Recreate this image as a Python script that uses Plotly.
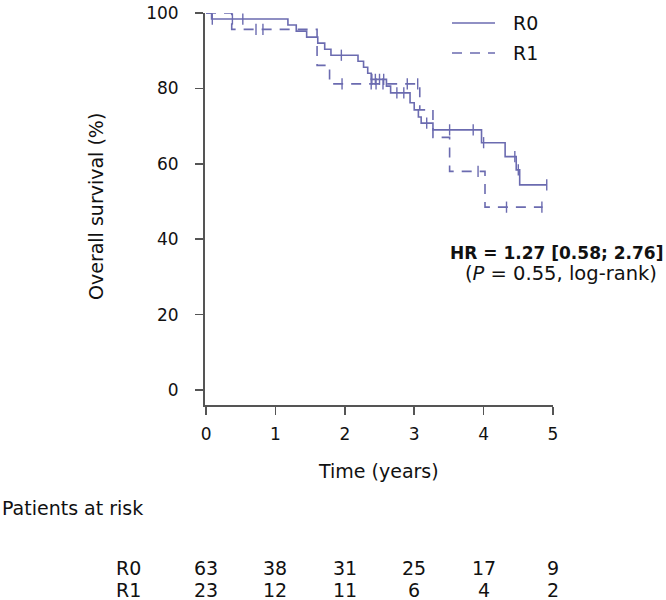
import plotly.graph_objects as go

# ---- data ----
r0_times = [0, 0.08, 1.18, 1.30, 1.45, 1.61, 1.71, 1.80, 2.19, 2.27, 2.33, 2.38, 2.60, 2.66, 2.94, 3.00, 3.06, 3.10, 3.27, 3.97, 4.31, 4.47, 4.52]
r0_surv = [100, 98.4, 96.8, 95.2, 93.6, 92.0, 90.4, 88.8, 87.2, 85.6, 84.0, 82.4, 80.6, 78.8, 76.2, 74.3, 72.4, 70.8, 69.0, 65.6, 61.9, 58.4, 54.4]
r0_end = 4.91
r0_censor = [0.09, 0.38, 0.53, 1.95, 2.39, 2.44, 2.50, 2.56, 2.75, 2.85, 3.18, 3.51, 3.85, 4.00, 4.45, 4.50, 4.91]

r1_times = [0, 0.37, 1.60, 1.78, 3.08, 3.27, 3.51, 4.02]
r1_surv = [100, 95.65, 86.1, 81.2, 74.3, 67.0, 58.0, 48.5]
r1_end = 4.85
r1_censor = [0.72, 0.82, 1.96, 2.38, 2.45, 2.55, 2.90, 3.05, 3.92, 4.33, 4.84]

risk_times = [0, 1, 2, 3, 4, 5]
risk_r0 = [63, 38, 31, 25, 17, 9]
risk_r1 = [23, 12, 11, 6, 4, 2]

x_ticks = [0, 1, 2, 3, 4, 5]
y_ticks = [0, 20, 40, 60, 80, 100]

COL = "#6b6bb0"
AX = "#555555"
TXT = "#111111"
FONT = "DejaVu Sans, Verdana, sans-serif"
FS = 19          # general text size
FS_TICK = 17     # tick labels
FS_HR = 17       # bold HR line
DASH = "10px,8px"

W, H = 666, 600
L, R, T, B = 205, 113, 13, 195
PW, PH = W - L - R, H - T - B


def px(x):
    return (x - L) / PW


def py(y):
    return (H - B - y) / PH


def surv_at(times, surv, t):
    s = surv[0]
    for ti, si in zip(times, surv):
        if ti <= t:
            s = si
    return s


def text(xp, yp, s, anchor="center", xref="paper", size=FS):
    fig.add_annotation(x=xp, y=py(yp), xref=xref, yref="paper", text=s, showarrow=False,
                       xanchor=anchor, yanchor="middle", font=dict(size=size, color=TXT, family=FONT))


fig = go.Figure()

for name, times, surv, end, cens, dash in [
    ("R0", r0_times, r0_surv, r0_end, r0_censor, "solid"),
    ("R1", r1_times, r1_surv, r1_end, r1_censor, DASH),
]:
    xs = list(times) + [end]
    ys = list(surv) + [surv[-1]]
    fig.add_trace(go.Scatter(
        x=xs, y=ys, mode="lines", line_shape="hv", name=name,
        line=dict(color=COL, width=1.6, dash=dash),
        cliponaxis=False, showlegend=False, hoverinfo="skip",
    ))
    fig.add_trace(go.Scatter(
        x=cens, y=[surv_at(times, surv, t) for t in cens], mode="markers",
        marker=dict(symbol="line-ns-open", size=8, color=COL, line=dict(color=COL, width=1.4)),
        cliponaxis=False, showlegend=False, hoverinfo="skip",
    ))

# legend drawn as shapes + text
fig.add_shape(type="line", xref="paper", yref="paper", x0=px(452), x1=px(495), y0=py(23), y1=py(23),
              line=dict(color=COL, width=1.6))
fig.add_shape(type="line", xref="paper", yref="paper", x0=px(452), x1=px(495), y0=py(53), y1=py(53),
              line=dict(color=COL, width=1.6, dash=DASH))
text(px(511), 23, "R0", "left")
text(px(511), 53, "R1", "left")

# HR text
text(px(665), 253, "<b>HR = 1.27 [0.58; 2.76]</b>", "right", size=FS_HR)
text(px(659), 273, "(<i>P</i> = 0.55, log-rank)", "right", size=19.5)

# axis titles
text(px(378), 471, "Time (years)")
fig.add_annotation(x=px(96), y=py(207), xref="paper", yref="paper", text="Overall survival (%)",
                   showarrow=False, textangle=-90, xanchor="center", yanchor="middle",
                   font=dict(size=FS, color=TXT, family=FONT))

# risk table
text(px(0), 508, "Patients at risk", "left")
for lab, vals, yy in [("R0", risk_r0, 568), ("R1", risk_r1, 590)]:
    text(px(128), yy, lab)
    for t, v in zip(risk_times, vals):
        text(t, yy, str(v), "center", xref="x")

fig.update_layout(
    width=W, height=H, margin=dict(l=L, r=R, t=T, b=B, pad=0, autoexpand=False),
    plot_bgcolor="white", paper_bgcolor="white",
    font=dict(family=FONT, size=FS_TICK, color=TXT),
    showlegend=False,
    xaxis=dict(range=[-0.015, 5], tickvals=x_ticks, ticks="outside", ticklen=8, tickwidth=1.5,
               tickcolor=AX, showline=True, linecolor=AX, linewidth=2, showgrid=False, zeroline=False,
               ticklabelstandoff=5, automargin=False, fixedrange=True,
               tickfont=dict(size=FS_TICK, family=FONT, color=TXT)),
    yaxis=dict(range=[-3.98, 100], tickvals=y_ticks, ticks="outside", ticklen=8, tickwidth=1.5,
               tickcolor=AX, showline=True, linecolor=AX, linewidth=2, showgrid=False, zeroline=False,
               ticklabelstandoff=13, automargin=False, fixedrange=True,
               tickfont=dict(size=FS_TICK, family=FONT, color=TXT)),
)

fig.write_html(
    "out.html",
    config={"displayModeBar": False, "staticPlot": True},
    post_script="document.body.style.margin='0px';document.body.style.overflow='hidden';",
)
